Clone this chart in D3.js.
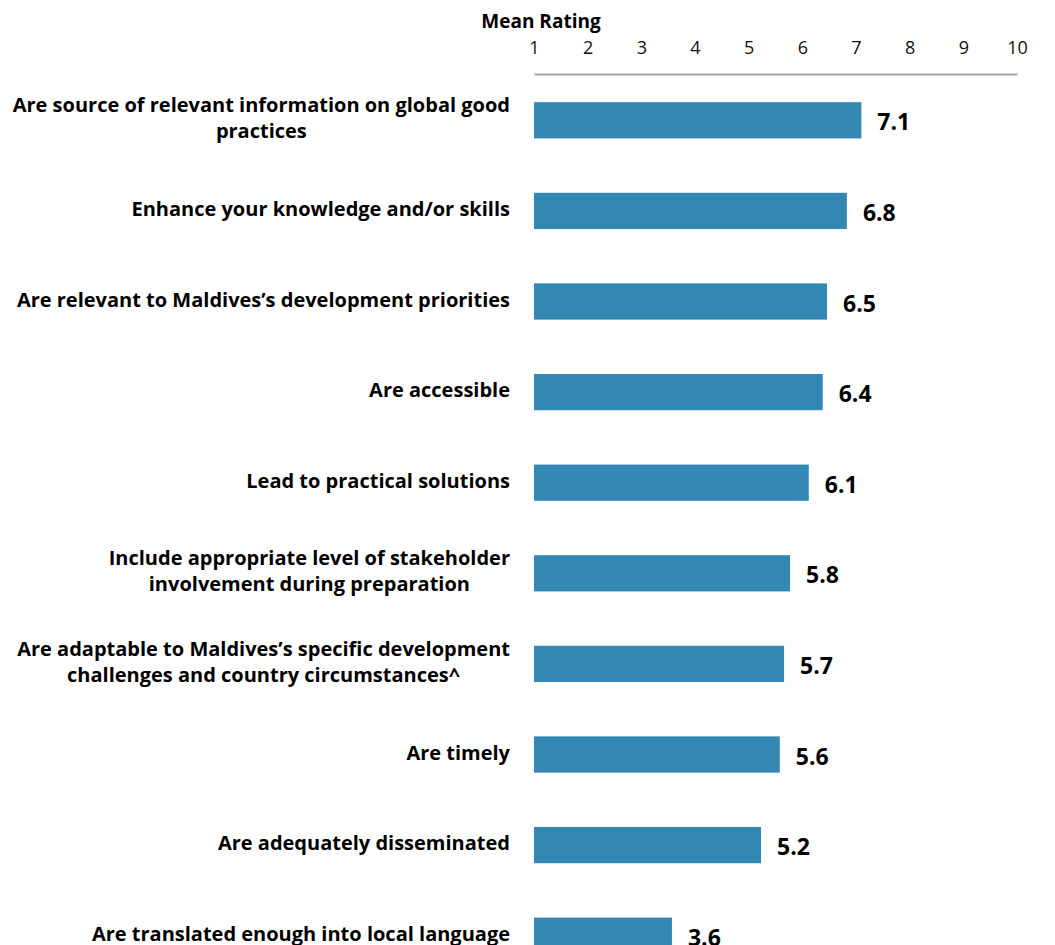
<!DOCTYPE html>
<html>
<head>
<meta charset="utf-8">
<script src="https://cdn.jsdelivr.net/npm/d3@7"></script>
<style>
  body { margin: 0; background: #fff; }
  svg { display: block; font-family: "Open Sans", Lato, sans-serif; }
</style>
</head>
<body>
<div id="chart"></div>
<script>
const categories = [
  'Are source of relevant information on global good\npractices',
  'Enhance your knowledge and/or skills',
  'Are relevant to Maldives\u2019s development priorities',
  'Are accessible',
  'Lead to practical solutions',
  'Include appropriate level of stakeholder\ninvolvement during preparation',
  'Are adaptable to Maldives\u2019s specific development\nchallenges and country circumstances^',
  'Are timely',
  'Are adequately disseminated',
  'Are translated enough into local language'
];
const values = [7.1, 6.83, 6.46, 6.38, 6.12, 5.77, 5.66, 5.58, 5.23, 3.57];
const ticks = [1, 2, 3, 4, 5, 6, 7, 8, 9, 10];

const width = 1055;
const height = 945;
const margin = { top: 75, left: 534, right: 38, labelGap: 24 };

const svg = d3.select('#chart')
  .append('svg')
  .attr('width', width)
  .attr('height', height);

const x = d3.scaleLinear()
  .domain([1, 10])
  .range([margin.left, width - margin.right]);

const y = d3.scaleBand()
  .domain(d3.range(categories.length))
  .range([margin.top, margin.top + 906])
  .paddingInner(0.6)
  .paddingOuter(0.3);

// axis on top
const axis = svg.append('g')
  .attr('transform', `translate(0, ${margin.top - 1})`)
  .call(d3.axisTop(x).tickValues(ticks).tickSize(0).tickPadding(20).tickFormat(d3.format('d')));
axis.select('.domain').attr('stroke', '#a6a6a6').attr('stroke-width', 2);
axis.selectAll('text')
  .attr('font-family', '"Open Sans", sans-serif')
  .attr('font-size', '18px')
  .attr('fill', '#111');

svg.append('text')
  .attr('x', 541)
  .attr('y', 28)
  .attr('text-anchor', 'middle')
  .attr('font-size', '19px')
  .attr('font-weight', 'bold')
  .text('Mean Rating');

// bars
svg.append('g')
  .attr('fill', '#3387b3')
  .selectAll('rect')
  .data(values)
  .join('rect')
    .attr('x', x(1))
    .attr('y', (d, i) => y(i))
    .attr('width', d => x(d) - x(1))
    .attr('height', y.bandwidth());

// value labels
svg.append('g')
  .selectAll('text')
  .data(values)
  .join('text')
    .attr('x', d => x(d) + 16)
    .attr('y', (d, i) => y(i) + y.bandwidth() / 2 + 10)
    .attr('font-size', '23px')
    .attr('font-weight', 'bold')
    .text(d => d3.format('.1f')(d));

// category labels, multi-line ones centred on their block
const labels = svg.append('g')
  .attr('font-size', '20px')
  .attr('font-weight', 'bold')
  .selectAll('text')
  .data(categories)
  .join('text')
    .attr('y', (d, i) => y(i) + y.bandwidth() / 2 + 5);

labels.each(function(d) {
  const t = d3.select(this);
  const lines = d.split('\n');
  const right = margin.left - margin.labelGap;
  const spans = lines.map((line, k) => t.append('tspan')
    .attr('dy', k === 0 ? `${-(lines.length - 1) * 13}px` : '26px')
    .text(line));
  const w = d3.max(spans, s => s.node().getComputedTextLength());
  const cx = right - w / 2;
  spans.forEach(s => s.attr('x', cx).attr('text-anchor', 'middle'));
});
</script>
</body>
</html>
